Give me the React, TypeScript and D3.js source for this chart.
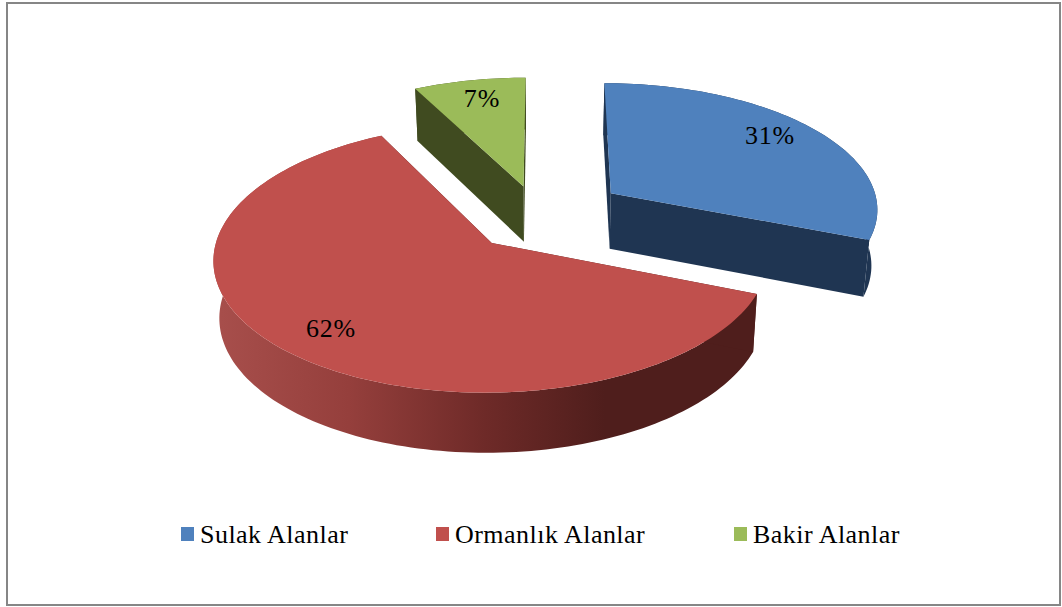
import React from "react";
import * as d3 from "d3";

const categories = ["Sulak Alanlar", "Ormanlık Alanlar", "Bakir Alanlar"];
const values = [31, 61.4, 7.6];
const percentLabels = ["31%", "62%", "7%"];
const topColors = ["#4F81BD", "#C0504D", "#9BBB59"];
const sideColors = ["#1F3552", "url(#redWall)", "#404B20"];

const W = 1062, H = 607;
const x0 = 545, y0 = 214, R = 269, k = 0.47, persp = 0.11, depth = 56;
const contract = 0.00032;
// exploded position of each slice's apex in the pie plane
const sliceOffsetX = [67, -52, -22];
const sliceOffsetY = [45, -60, 60];

function project(X: number, Y: number, Z: number): [number, number] {
  const s = 1 / (1 + (persp * Y) / R);
  return [x0 + X * s * (1 - contract * Z), y0 - k * Y * s + Z * (1 - (0.06 * Y) / R)];
}

const pie = d3.pie<number>().sort(null).value((d) => d);
const arcs = pie(values);
const lineGen = d3.line();

function arcPts(a0: number, a1: number, ox: number, oy: number, z: number): [number, number][] {
  const n = Math.max(2, Math.ceil((a1 - a0) * 40));
  return d3.range(n + 1).map((i) => {
    const t = a0 + ((a1 - a0) * i) / n;
    return project(ox + R * Math.sin(t), oy + R * Math.cos(t), z);
  });
}

export default function App() {
  const slices = arcs.map((a, i) => {
    const ox = sliceOffsetX[i], oy = sliceOffsetY[i];
    const apexT = project(ox, oy, 0), apexB = project(ox, oy, depth);
    const top = arcPts(a.startAngle, a.endAngle, ox, oy, 0);
    const bot = arcPts(a.startAngle, a.endAngle, ox, oy, depth);
    const topPath = lineGen([apexT, ...top])! + "Z";
    const outer = lineGen([...top, ...bot.slice().reverse()])! + "Z";
    const wallA = lineGen([apexT, top[0], bot[0], apexB])! + "Z";
    const wallB = lineGen([apexT, top[top.length - 1], bot[bot.length - 1], apexB])! + "Z";
    return { i, topPath, outer, wallA, wallB };
  });

  const labelPos: [number, number][] = [[770, 144], [331, 337], [482, 107]];
  const legendX = [181, 436, 734];

  return (
    <svg width={W} height={H} style={{ position: "absolute", left: 0, top: 0, background: "#fff" }}>
      <defs>
        <linearGradient id="redWall" gradientUnits="userSpaceOnUse" x1={213} x2={757} y1={0} y2={0}>
          <stop offset="0" stopColor="#A84F4C" />
          <stop offset="0.25" stopColor="#953F3C" />
          <stop offset="0.5" stopColor="#6E2A28" />
          <stop offset="0.72" stopColor="#4F1E1C" />
          <stop offset="1" stopColor="#4F1E1C" />
        </linearGradient>
      </defs>
      <rect x={7} y={3} width={1053} height={602} fill="#fff" stroke="#868686" strokeWidth={2} />
      {slices.map((s) => (
        <g key={s.i}>
          <path d={s.outer} fill={sideColors[s.i]} />
          <path d={s.wallA} fill={s.i === 1 ? "#4F1E1C" : sideColors[s.i]} />
          <path d={s.wallB} fill={s.i === 1 ? "#4F1E1C" : sideColors[s.i]} />
          <path d={s.topPath} fill={topColors[s.i]} />
        </g>
      ))}
      <g fontFamily="'Liberation Serif', serif" fill="#000">
        {percentLabels.map((t, i) => (
          <text key={t} x={labelPos[i][0]} y={labelPos[i][1]} fontSize={26} letterSpacing={0.8} textAnchor="middle">{t}</text>
        ))}
        {categories.map((c, i) => (
          <g key={c}>
            <rect x={legendX[i]} y={527} width={13} height={14} fill={topColors[i]} />
            <text x={legendX[i] + 19} y={543} fontSize={26} letterSpacing={0.47}>{c}</text>
          </g>
        ))}
      </g>
    </svg>
  );
}
